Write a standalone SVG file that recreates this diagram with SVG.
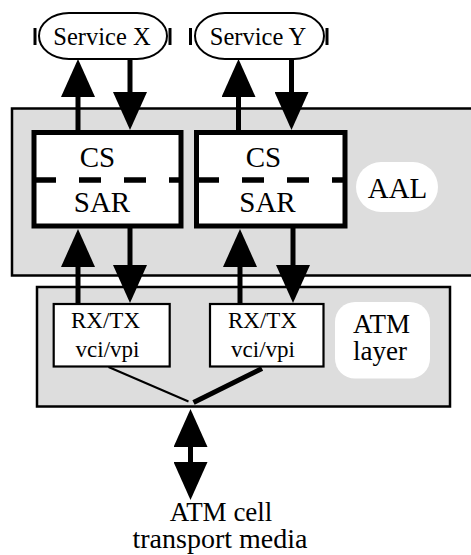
<svg xmlns="http://www.w3.org/2000/svg" width="471" height="555" viewBox="0 0 471 555" font-family="'Liberation Serif', 'DejaVu Serif', 'Times New Roman', serif">
<style>
  text { font-family: "Liberation Serif", "DejaVu Serif", "Times New Roman", serif; fill: #000; text-anchor: middle; }
  .layer { fill: #dddddd; stroke: #000; stroke-width: 2.5; }
  .pill { fill: #fff; stroke: #000; stroke-width: 2; }
  .label { fill: #fff; stroke: none; }
  .thick { fill: #fff; stroke: #000; stroke-width: 5; }
  .thin { fill: #fff; stroke: #000; stroke-width: 2.2; }
  .dash { stroke: #000; stroke-width: 5.5; stroke-dasharray: 22 23; fill: none; }
  .tick { stroke: #000; stroke-width: 3; }
  .arr { stroke: #000; stroke-width: 5; fill: none; }
  .t24 { font-size: 24.5px; }
  .t23 { font-size: 23px; }
  .t29 { font-size: 29px; }
  .t28 { font-size: 28px; }
  .t27 { font-size: 27px; }
</style>
<defs>
  <marker id="ah" markerUnits="userSpaceOnUse" markerWidth="38" markerHeight="34" viewBox="0 0 38 34" refX="0" refY="17" orient="auto-start-reverse">
    <path d="M0,0 L38,17 L0,34 Z" fill="#000"/>
  </marker>
</defs>

<g id="aal-layer">
  <rect class="layer" x="12" y="108.5" width="470" height="167"/>
  <rect class="label" x="356" y="162" width="82" height="50" rx="25" ry="25"/>
  <text class="t29" x="397.5" y="198">AAL</text>
</g>

<g id="atm-layer">
  <rect class="layer" x="37" y="287" width="413" height="119.5"/>
  <rect class="label" x="335" y="302" width="95" height="76.5" rx="20" ry="20"/>
  <text class="t27" x="381.5" y="333">ATM</text>
  <text class="t27" x="380" y="360">layer</text>
</g>

<g id="service-x">
  <rect class="pill" x="39" y="13" width="128" height="46" rx="30" ry="23"/>
  <line class="tick" x1="35" y1="28" x2="35" y2="45"/>
  <line class="tick" x1="170" y1="28" x2="170" y2="45"/>
  <text class="t24" x="102" y="45">Service X</text>
</g>

<g id="service-y">
  <rect class="pill" x="195" y="13" width="129" height="46" rx="30" ry="23"/>
  <line class="tick" x1="190.5" y1="28" x2="190.5" y2="45"/>
  <line class="tick" x1="327" y1="28" x2="327" y2="45"/>
  <text class="t24" x="258" y="45">Service Y</text>
</g>

<g id="cs-sar-1">
  <rect class="thick" x="34" y="132.5" width="147" height="93.5"/>
  <line class="dash" x1="34" y1="180" x2="181" y2="180"/>
  <text class="t29" x="97.5" y="167">CS</text>
  <text class="t29" x="102" y="212">SAR</text>
</g>

<g id="cs-sar-2">
  <rect class="thick" x="196.5" y="132.5" width="148.5" height="93.5"/>
  <line class="dash" x1="197" y1="180" x2="344" y2="180"/>
  <text class="t29" x="263.5" y="167">CS</text>
  <text class="t29" x="267.5" y="212">SAR</text>
</g>

<g id="rxtx-1">
  <rect class="thin" x="53.7" y="304" width="116" height="62.5"/>
  <text class="t23" x="105.5" y="328">RX/TX</text>
  <text class="t23" x="107.5" y="357">vci/vpi</text>
</g>

<g id="rxtx-2">
  <rect class="thin" x="210" y="304" width="113.5" height="62.5"/>
  <text class="t23" x="262.5" y="328">RX/TX</text>
  <text class="t23" x="263" y="357">vci/vpi</text>
</g>

<g id="media">
  <text class="t27" x="221" y="520.5">ATM cell</text>
  <text class="t28" x="220" y="548">transport media</text>
</g>

<g id="connectors">
  <line class="arr" x1="78" y1="131" x2="78" y2="97" marker-end="url(#ah)"/>
  <line class="arr" x1="130" y1="59" x2="130" y2="92" marker-end="url(#ah)"/>
  <line class="arr" x1="238.5" y1="131" x2="238.5" y2="97" marker-end="url(#ah)"/>
  <line class="arr" x1="291.5" y1="59" x2="291.5" y2="92" marker-end="url(#ah)"/>
  <line class="arr" x1="78" y1="303" x2="78" y2="267" marker-end="url(#ah)"/>
  <line class="arr" x1="130" y1="228" x2="130" y2="265" marker-end="url(#ah)"/>
  <line class="arr" x1="240" y1="303" x2="240" y2="267" marker-end="url(#ah)"/>
  <line class="arr" x1="293" y1="228" x2="293" y2="265" marker-end="url(#ah)"/>
  <line stroke="#000" stroke-width="2" x1="108.5" y1="367" x2="188.5" y2="401.5"/>
  <line stroke="#000" stroke-width="5" x1="262" y1="368.5" x2="193.5" y2="402.5"/>
  <line class="arr" x1="190.5" y1="447" x2="190.5" y2="462" marker-start="url(#ah)" marker-end="url(#ah)"/>
</g>
</svg>
